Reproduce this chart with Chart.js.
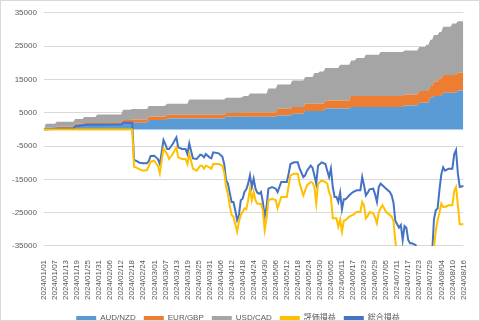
<!doctype html>
<html lang="ja">
<head>
<meta charset="UTF-8">
<title>通貨ペア別損益</title>
<script src="https://cdn.jsdelivr.net/npm/chart.js@4"></script>
<style>
  html, body { margin: 0; padding: 0; background: #fff; }
  #wrap {
    width: 480px;
    height: 321px;
    box-sizing: border-box;
    border: 1px solid #d9d9d9;
  }
</style>
</head>
<body>
<div id="wrap"><canvas id="pnlChart"></canvas></div>

<script>
// daily categories 2024/01/01 .. 2024/08/16
const days = [];
for (let d = new Date(2024, 0, 1); d <= new Date(2024, 7, 16); d.setDate(d.getDate() + 1)) {
    const mm = String(d.getMonth() + 1).padStart(2, '0');
    const dd = String(d.getDate()).padStart(2, '0');
    days.push(d.getFullYear() + '/' + mm + '/' + dd);
}

// realized profit per pair (stacked areas), one value per day
const audNzd = [
    0,
    500, 500, 500, 500, 500, 500, 500, 500,
    500, 500, 500, 500, 500, 500, 500, 500,
    1300, 1300, 1300, 1300, 1300, 1300, 1300, 1300,
    1300, 1300, 1300, 1300, 1300, 1300, 1300, 1300,
    1300, 1300, 1300, 1300, 1300, 1300, 1300, 1300,
    1300, 1300,
    2000, 2000, 2000, 2000, 2000, 2000, 2000, 2000,
    2000, 2000, 2000, 2000, 2000, 2000,
    2800, 2800, 2800, 2800, 2800, 2800, 2800, 2800,
    2800, 2800,
    3300, 3300, 3300, 3300, 3300, 3300, 3300, 3300,
    3300, 3300, 3300, 3300, 3300, 3300, 3300, 3300,
    3300, 3300, 3300, 3300, 3300, 3300, 3300, 3300,
    3300, 3300, 3300, 3300, 3300, 3300, 3300, 3300,
    3800, 3800, 3800, 3800, 3800, 3800, 3800, 3800,
    3800, 3800, 3800, 3800, 3800, 3800, 3800, 3800,
    3800, 3800, 3800, 3800, 3800, 3800, 3800, 3800,
    3800, 3800, 3800, 3800,
    4200, 4200, 4200, 4200, 4200, 4200, 4200, 4200,
    4700, 4700, 4700, 4700, 4700, 4700, 4700,
    5500, 5500, 5500, 5500, 5500, 5500, 5500, 5500,
    5500, 5500, 5500,
    6300, 6300, 6300, 6300, 6300, 6300, 6300, 6300,
    6300, 6300, 6300, 6300, 6300, 6300,
    6700, 6700, 6700, 6700, 6700, 6700, 6700, 6700,
    6700, 6700, 6700, 6700, 6700, 6700, 6700, 6700,
    6700, 6700, 6700, 6700, 6700, 6700, 6700, 6700,
    6700, 6700, 6700, 6700, 6700,
    7200, 7200, 7200, 7200, 7200, 7200, 7200, 7200,
    8000, 8000, 8000, 8000, 8000, 8000,
    9500, 9500,
    10000, 10000, 10000, 10000, 10000,
    11000, 11000, 11000, 11000, 11000, 11000, 11000, 11000,
    11700, 11700, 11700, 11700
];

const eurGbp = [
    0,
    0, 0, 0, 0, 0, 0,
    400, 400, 400, 400, 400, 400, 400, 400,
    400, 400, 400, 400, 400, 400, 400,
    600, 600, 600, 600, 600, 600, 600, 600,
    600, 600, 600, 600, 600, 600, 600, 600,
    600, 600, 600, 600, 600,
    800, 800, 800, 800, 800,
    1000, 1000, 1000, 1000, 1000, 1000, 1000, 1000,
    1000,
    1100, 1100, 1100, 1100, 1100, 1100, 1100, 1100,
    1100, 1100, 1100, 1100, 1100, 1100, 1100, 1100,
    1100, 1100, 1100, 1100, 1100, 1100, 1100, 1100,
    1100, 1100, 1100, 1100, 1100, 1100, 1100, 1100,
    1100, 1100, 1100, 1100, 1100, 1100, 1100, 1100,
    1100, 1100, 1100, 1100, 1100, 1100, 1100, 1100,
    1100, 1100, 1100, 1100,
    1300, 1300, 1300, 1300, 1300, 1300, 1300, 1300,
    1300, 1300, 1300, 1300, 1300, 1300, 1300, 1300,
    1300, 1300,
    2000, 2000, 2000, 2000, 2000, 2000, 2000, 2000,
    2000, 2000, 2000, 2000, 2000, 2000, 2000,
    2200, 2200, 2200, 2200, 2200, 2200, 2200, 2200,
    2200, 2200, 2200,
    2400, 2400, 2400, 2400, 2400, 2400, 2400, 2400,
    2400, 2400, 2400, 2400, 2400, 2400,
    3300, 3300, 3300, 3300, 3300, 3300, 3300, 3300,
    3300, 3300, 3300, 3300, 3300, 3300, 3300, 3300,
    3300, 3300, 3300, 3300, 3300, 3300, 3300, 3300,
    3300, 3300, 3300, 3300, 3300, 3300, 3300, 3300,
    3300, 3300, 3300, 3300, 3300,
    3500, 3500, 3500, 3500, 3500, 3500, 3500, 3500,
    4400, 4400, 4400,
    5300, 5300, 5300, 5300, 5300, 5300, 5300, 5300,
    5300, 5300, 5300, 5300, 5300, 5300
];

const usdCad = [
    0,
    1200, 1200, 1200, 1200, 1200, 1200,
    1400, 1400, 1400, 1400, 1400, 1400, 1400, 1400,
    1400, 1400, 1400, 1400, 1400, 1400, 1400,
    1800, 1800, 1800, 1800, 1800, 1800, 1800,
    2600, 2600, 2600, 2600, 2600, 2600, 2600, 2600,
    2600, 2600, 2600, 2600, 2600, 2600,
    3100, 3100, 3100, 3100, 3100, 3100, 3100, 3100,
    3100, 3100, 3100, 3100, 3100, 3100, 3100, 3100,
    3100, 3100, 3100, 3100, 3100, 3100, 3100,
    3300, 3300, 3300, 3300, 3300, 3300, 3300, 3300,
    3300, 3300, 3300, 3300, 3300,
    4600, 4600, 4600, 4600, 4600, 4600, 4600, 4600,
    4600, 4600, 4600, 4600, 4600, 4600, 4600, 4600,
    4600, 4600, 4600, 4600, 4600, 4600, 4600, 4600,
    4600, 4600, 4600, 4600, 4600,
    4900, 4900, 4900, 4900,
    5700, 5700, 5700, 5700, 5700, 5700, 5700, 5700,
    5700, 5700,
    7200, 7200, 7200, 7200, 7200,
    7300, 7300, 7300, 7300, 7300, 7300, 7300, 7300,
    8000, 8000, 8000, 8000, 8000, 8000, 8000, 8000,
    8000, 8000, 8000, 8000,
    9200, 9200, 9200,
    9700, 9700, 9700, 9700, 9700, 9700, 9700, 9700,
    9700, 9700, 9700,
    10700, 10700, 10700, 10700, 10700, 10700, 10700, 10700,
    10700,
    11400, 11400, 11400, 11400, 11400,
    12400, 12400, 12400, 12400, 12400, 12400, 12400, 12400,
    13200, 13200, 13200, 13200, 13200, 13200, 13200, 13200,
    13200, 13200, 13200, 13200, 13200, 13200, 13200, 13200,
    13200, 13200, 13200, 13200, 13200, 13200, 13200, 13200,
    13200,
    13900, 13900, 13900, 13900, 13900, 13900, 13900, 13900,
    13900,
    14500, 14500, 14500, 14500, 14500,
    15500, 15500, 15500, 15500, 15500, 15500, 15500
];

// valuation / total P&L lines, read at these day indexes
const sampleDays = [
    0, 8, 16, 17, 23, 42, 43, 48, 49, 50,
    52, 54, 56, 57, 58, 60, 61, 62, 63, 64,
    65, 66, 67, 68, 70, 72, 73, 75, 77, 78,
    79, 80, 81, 83, 85, 86, 87, 88, 90, 91,
    92, 95, 97, 98, 99, 100, 101, 102, 103, 104,
    105, 106, 107, 108, 109, 110, 111, 112, 113, 114,
    115, 116, 117, 118, 119, 120, 121, 122, 124, 126,
    127, 129, 132, 133, 134, 136, 138, 139, 141, 142,
    143, 145, 146, 147, 148, 149, 151, 153, 154, 155,
    156, 157, 158, 159, 160, 161, 162, 163, 164, 166,
    168, 170, 172, 173, 174, 175, 176, 177, 179, 180,
    181, 182, 183, 184, 186, 188, 189, 190, 191, 192,
    193, 194, 195, 196, 197, 198, 199, 200, 202, 203,
    204, 208, 211, 212, 213, 214, 215, 216, 217, 218,
    220, 222, 223, 224, 225, 226, 228
];

const hyoka = [
    0, 0, 0, 0, 0, 0, 0, 0, -11200, -11400,
    -12000, -12400, -12200, -11000, -9700, -9400, -10300, -11000, -13150, -9400,
    -5700, -6600, -7400, -8900, -7400, -5400, -8400, -8900, -8900, -10400,
    -7400, -9500, -11800, -12400, -10900, -10900, -11800, -10900, -11400, -11800,
    -10400, -10400, -10900, -12900, -17300, -19300, -23000, -25700, -26200, -28500,
    -30700, -27700, -25700, -24700, -23700, -24000, -21300, -17800, -21300, -18800,
    -21300, -22300, -22300, -22300, -24300, -30200, -26700, -21300, -20800, -21300,
    -23700, -20300, -20300, -17000, -13800, -13300, -13300, -16300, -19800, -18300,
    -16800, -15800, -16000, -17300, -22300, -16300, -15300, -15800, -16300, -18800,
    -20300, -26700, -26700, -26700, -29200, -27000, -30700, -27500, -27200, -26200,
    -25700, -24800, -24800, -21800, -22800, -26700, -26000, -24800, -25200, -26500,
    -28200, -24800, -23700, -22800, -24800, -25700, -26200, -27500, -33500, -37500,
    -39500, -40000, -40000, -40000, -40000, -40000, -40000, -40000, -40000, -40000,
    -40000, -40000, -39000, -35500, -30500, -27200, -25000, -22300, -23300, -23300,
    -22800, -22800, -18500, -17300, -22800, -28500, -28500
];

const sogo = [
    0, 300, 300, 900, 1400, 1500, 2000, 2000, -9200, -9400,
    -10000, -10200, -10200, -9500, -8000, -7900, -8400, -9000, -10400, -6900,
    -3200, -4400, -5900, -5900, -4400, -2400, -5400, -5900, -5900, -7400,
    -4200, -6500, -8700, -8900, -7600, -7800, -8400, -7400, -8400, -8700,
    -6900, -7200, -8200, -10400, -15300, -16300, -19000, -21800, -21800, -24300,
    -27200, -25700, -21300, -20800, -18800, -18000, -16300, -13800, -17300, -14800,
    -17800, -19000, -19300, -18800, -21800, -26200, -23300, -17800, -17300, -17800,
    -18800, -15800, -15800, -13300, -10400, -9900, -9900, -11800, -14300, -13800,
    -12400, -10900, -11500, -13800, -16300, -10900, -9900, -10400, -12400, -14300,
    -11800, -17300, -20300, -20300, -21800, -19000, -24000, -21000, -21000, -19800,
    -18800, -18300, -18300, -14300, -16800, -19800, -19000, -18000, -17800, -19500,
    -21800, -17300, -16300, -16800, -17800, -18800, -19800, -22000, -27500, -28500,
    -29500, -28700, -33200, -29000, -29500, -33200, -34200, -34200, -34700, -36500,
    -40000, -40000, -37500, -27000, -24300, -23700, -18000, -13500, -11400, -12400,
    -11800, -11800, -7500, -6200, -13300, -17300, -17000
];

const yTicks = { min: -35000, max: 35000, step: 10000 };

[audNzd, eurGbp, usdCad].forEach((arr, i) => {
    if (arr.length !== days.length) throw new Error('area series ' + i + ' has ' + arr.length + ' values');
});
if (hyoka.length !== sampleDays.length || sogo.length !== sampleDays.length) {
    throw new Error('line series length mismatch');
}

const toPoints = vals => sampleDays.map((d, i) => ({ x: days[d], y: vals[i] }));

const FONT = "'Liberation Sans', 'Noto Sans CJK JP', sans-serif";
const TEXT = '#595959';

function area(label, data, color, fill) {
    return {
        label: label,
        data: data,
        backgroundColor: color,
        borderColor: color,
        borderWidth: 0,
        pointRadius: 0,
        fill: fill,
        stack: 'pairs',
        order: 1
    };
}

function line(label, data, color) {
    return {
        label: label,
        data: toPoints(data),
        backgroundColor: color,
        borderColor: color,
        borderWidth: 2,
        pointRadius: 0,
        fill: false,
        stack: label,
        order: 0
    };
}

const ctx = document.getElementById('pnlChart').getContext('2d');
new Chart(ctx, {
    type: 'line',
    data: {
        labels: days,
        datasets: [
            area('AUD/NZD', audNzd, '#5B9BD5', 'origin'),
            area('EUR/GBP', eurGbp, '#ED7D31', '-1'),
            area('USD/CAD', usdCad, '#A5A5A5', '-1'),
            line('評価損益', hyoka, '#FFC000'),
            line('総合損益', sogo, '#4472C4')
        ]
    },
    options: {
        responsive: true,
        maintainAspectRatio: false,
        animation: false,
        layout: { padding: { left: 4, right: 8, top: 0, bottom: -12 } },
        plugins: {
            tooltip: { enabled: false },
            legend: {
                position: 'bottom',
                labels: {
                    boxWidth: 20,
                    boxHeight: 4,
                    padding: 8,
                    color: TEXT,
                    font: { size: 8, family: FONT },
                    sort: (a, b) => a.datasetIndex - b.datasetIndex,
                    generateLabels(chart) {
                        return Chart.defaults.plugins.legend.labels.generateLabels(chart)
                            .map(item => Object.assign(item, { lineWidth: 0 }));
                    }
                }
            }
        },
        scales: {
            x: {
                grid: { display: false },
                border: { display: false },
                ticks: {
                    autoSkip: false,
                    minRotation: 90,
                    maxRotation: 90,
                    padding: 6,
                    color: TEXT,
                    font: { size: 8, family: FONT },
                    callback: function (value, index) {
                        return index % 6 === 0 ? this.getLabelForValue(value) : null;
                    }
                }
            },
            y: {
                stacked: true,
                min: yTicks.min,
                max: yTicks.max,
                border: { display: false },
                grid: { color: '#d9d9d9', drawTicks: false },
                ticks: {
                    stepSize: yTicks.step,
                    padding: 7,
                    color: TEXT,
                    font: { size: 8, family: FONT },
                    callback: v => String(v)
                }
            }
        }
    }
});
</script>
</body>
</html>
